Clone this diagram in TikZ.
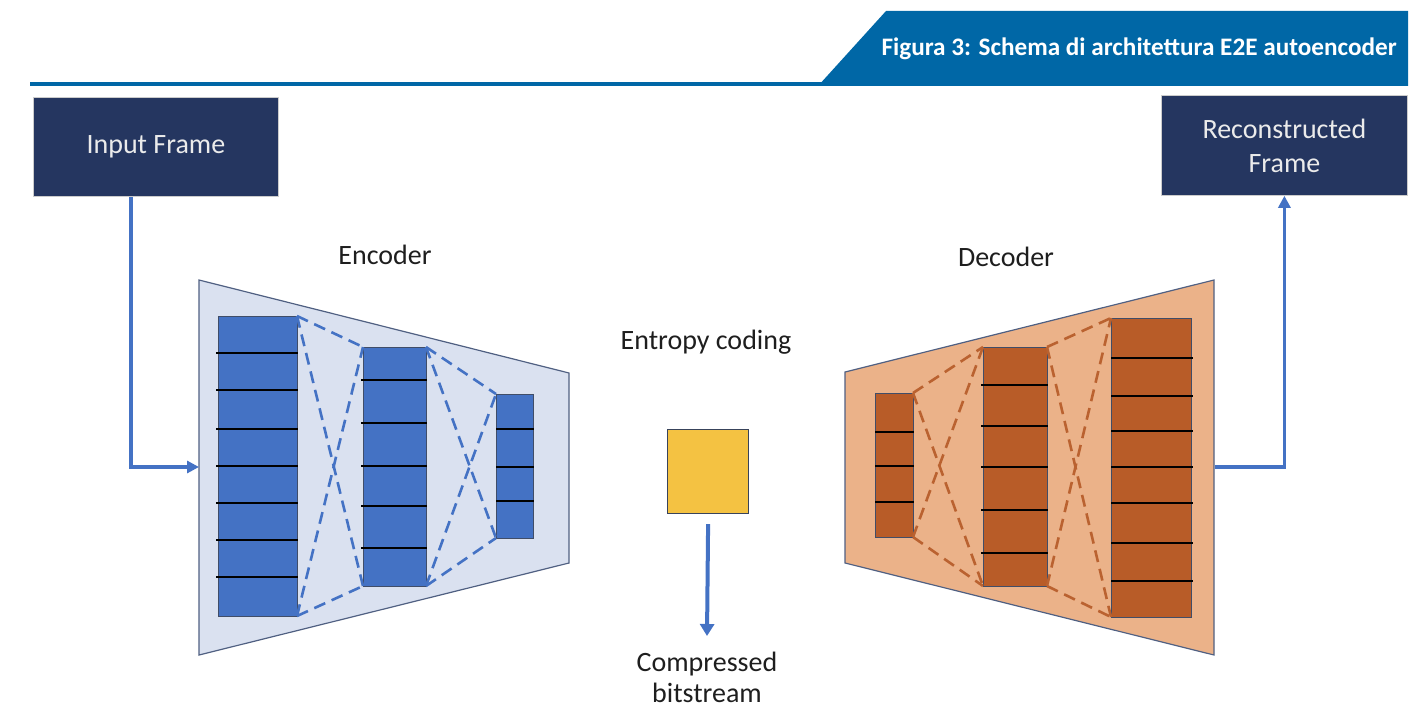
\documentclass[tikz,border=0pt]{standalone}
\usepackage{fontspec}
\setmainfont{Carlito}
\usetikzlibrary{arrows.meta}
\definecolor{hdrblue}{RGB}{0,103,166}
\definecolor{navy}{RGB}{37,54,96}
\definecolor{arrblue}{RGB}{68,114,196}
\definecolor{encfill}{RGB}{218,225,240}
\definecolor{encedge}{RGB}{80,96,130}
\definecolor{declight}{RGB}{235,178,137}
\definecolor{decdark}{RGB}{184,92,40}
\definecolor{decdash}{RGB}{186,98,48}
\definecolor{yellowbox}{RGB}{244,194,66}
\definecolor{txt}{RGB}{30,30,30}
\tikzset{
  framebox/.style={fill=navy, draw=gray!40, line width=0.4pt, text=white!92!black,
    font=\fontsize{14}{17}\selectfont, align=center, inner sep=0pt, anchor=north west},
  enclayer/.style={fill=arrblue, draw=encedge!80!black, line width=0.5pt, inner sep=0pt, outer sep=0pt, anchor=north west},
  declayer/.style={fill=decdark, draw=encedge!80!black, line width=0.5pt, inner sep=0pt, outer sep=0pt, anchor=north west},
  divider/.style={black, line width=0.6pt},
  encdash/.style={arrblue, dash pattern=on 6pt off 3.5pt, line width=1.3pt},
  decdashline/.style={decdash, dash pattern=on 6pt off 3.5pt, line width=1.3pt},
  flow/.style={arrblue, line width=1.6pt, -{Triangle[length=6pt,width=6pt]}},
  label/.style={text=txt, font=\fontsize{14}{16}\selectfont, align=center, inner sep=0pt},
}
\newcommand\mklayer[6]{% style, name, x1, y1, x2, y2
  \node[#1, minimum width={(#5-#3)*0.5pt}, minimum height={(#6-#4)*0.5pt}] (#2) at (#3,#4) {};}
\begin{document}
\begin{tikzpicture}[x=0.5pt,y=-0.5pt]
\useasboundingbox (0,0) rectangle (1417,711);
% header
\fill[hdrblue] (818,86) -- (886,11) -- (1408,11) -- (1408,86) -- cycle;
\fill[hdrblue] (30,82) rectangle (1408,86);
\node[anchor=east, text=white, font=\bfseries\fontsize{12.6}{14}\selectfont, inner sep=0pt] (title) at (1397,49) {Figura 3: Schema di architettura E2E autoencoder};
% frames
\node[framebox, minimum width={245*0.5pt}, minimum height={99*0.5pt}] (input) at (33,97) {Input Frame};
\node[framebox, minimum width={246*0.5pt}, minimum height={100*0.5pt}] (recon) at (1161,95) {Reconstructed\\Frame};
% encoder
\fill[encfill] (199,280) -- (569,373) -- (569,563) -- (199,655) -- cycle;
\draw[encedge, line width=0.6pt] (199,280) -- (569,373) -- (569,563) -- (199,655) -- cycle;
\node[label] (enclab) at (385,255) {Encoder};
\mklayer{enclayer}{e1}{218}{316}{297}{616}
\mklayer{enclayer}{e2}{363}{347}{426}{586}
\mklayer{enclayer}{e3}{496}{394}{533}{538}
\foreach \y in {353,390,429,466,503,540,577} \draw[divider] (216,\y) -- (298,\y);
\foreach \y in {380,423,466,506,548} \draw[divider] (361,\y) -- (427,\y);
\foreach \y in {429,467,501} \draw[divider] (496,\y) -- (534,\y);
\draw[encdash] (e1.north east) -- (e2.north west);
\draw[encdash] (e1.north east) -- (e2.south west);
\draw[encdash] (e1.south east) -- (e2.north west);
\draw[encdash] (e1.south east) -- (e2.south west);
\draw[encdash] (e2.north east) -- (e3.north west);
\draw[encdash] (e2.north east) -- (e3.south west);
\draw[encdash] (e2.south east) -- (e3.north west);
\draw[encdash] (e2.south east) -- (e3.south west);
% decoder
\fill[declight] (845,372) -- (1214,280) -- (1214,655) -- (845,563) -- cycle;
\draw[encedge, line width=0.6pt] (845,372) -- (1214,280) -- (1214,655) -- (845,563) -- cycle;
\node[label] (declab) at (1006,257) {Decoder};
\mklayer{declayer}{d1}{875}{393}{913}{537}
\mklayer{declayer}{d2}{983}{347}{1047}{586}
\mklayer{declayer}{d3}{1111}{318}{1191}{617}
\foreach \y in {432,466,502} \draw[divider] (875,\y) -- (914,\y);
\foreach \y in {385,426,467,510,553} \draw[divider] (981,\y) -- (1048,\y);
\foreach \y in {358,396,431,467,503,543,581} \draw[divider] (1111,\y) -- (1193,\y);
\draw[decdashline] (d1.north east) -- (d2.north west);
\draw[decdashline] (d1.north east) -- (d2.south west);
\draw[decdashline] (d1.south east) -- (d2.north west);
\draw[decdashline] (d1.south east) -- (d2.south west);
\draw[decdashline] (d2.north east) -- (d3.north west);
\draw[decdashline] (d2.north east) -- (d3.south west);
\draw[decdashline] (d2.south east) -- (d3.north west);
\draw[decdashline] (d2.south east) -- (d3.south west);
% entropy coding
\node[label] (entlab) at (706,342) {Entropy coding};
\node[fill=yellowbox, draw=encedge!70!black, line width=0.6pt, inner sep=0pt, anchor=north west,
  minimum width={81*0.5pt}, minimum height={84*0.5pt}] (ent) at (667,429) {};
\coordinate (bitend) at (707,636);
\draw[arrblue, line width=2pt, -{Triangle[length=6pt,width=7pt]}] ([yshift=-5pt]ent.south) -- (bitend);
\node[label, font=\fontsize{14}{15.5}\selectfont, text depth=0pt, anchor=south] (bits) at (707,703) {Compressed\\bitstream};
% connectors
\coordinate (encin) at (199,467);
\coordinate (inturn) at (131,467);
\draw[flow] (input.south -| inturn) -- (inturn) -- (encin);
\coordinate (decout) at (1215,467);
\draw[flow] (decout) -| (recon.south);
\end{tikzpicture}
\end{document}
